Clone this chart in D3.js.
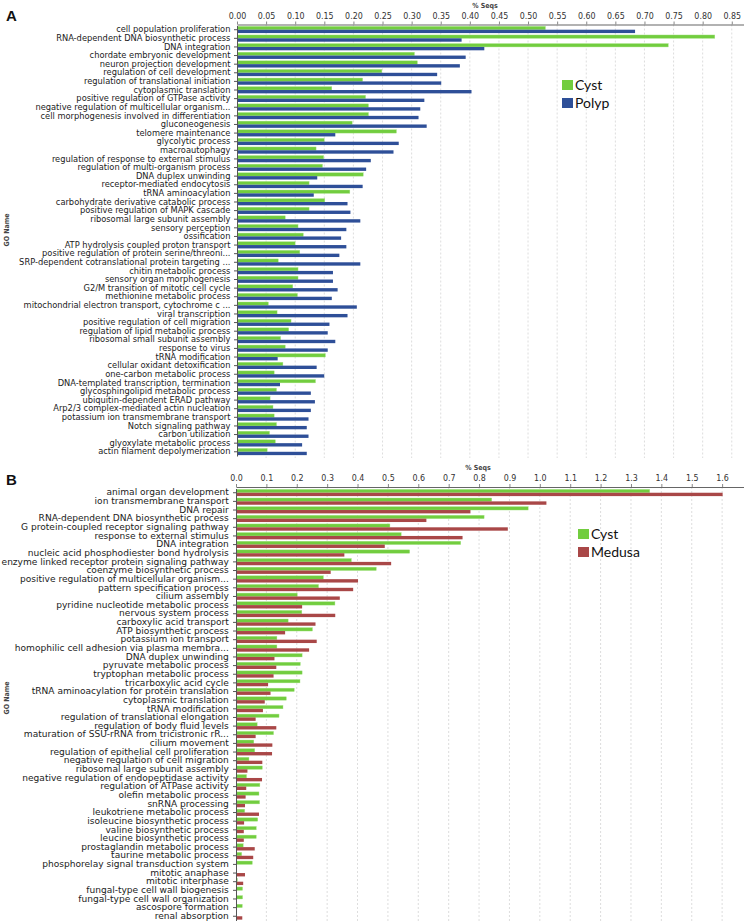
<!DOCTYPE html>
<html>
<head>
<meta charset="utf-8">
<script src="https://cdn.jsdelivr.net/npm/d3@7/dist/d3.min.js"></script>
<style>
  html, body { margin: 0; padding: 0; background: #fff; }
  svg { display: block; }
</style>
</head>
<body>
<svg id="chart" width="744" height="923"></svg>
<script>
// ---------- Panel A data ----------
const categoriesA = [
  "cell population proliferation",
  "RNA-dependent DNA biosynthetic process",
  "DNA integration",
  "chordate embryonic development",
  "neuron projection development",
  "regulation of cell development",
  "regulation of translational initiation",
  "cytoplasmic translation",
  "positive regulation of GTPase activity",
  "negative regulation of multicellular organism...",
  "cell morphogenesis involved in differentiation",
  "gluconeogenesis",
  "telomere maintenance",
  "glycolytic process",
  "macroautophagy",
  "regulation of response to external stimulus",
  "regulation of multi-organism process",
  "DNA duplex unwinding",
  "receptor-mediated endocytosis",
  "tRNA aminoacylation",
  "carbohydrate derivative catabolic process",
  "positive regulation of MAPK cascade",
  "ribosomal large subunit assembly",
  "sensory perception",
  "ossification",
  "ATP hydrolysis coupled proton transport",
  "positive regulation of protein serine/threoni...",
  "SRP-dependent cotranslational protein targeting ...",
  "chitin metabolic process",
  "sensory organ morphogenesis",
  "G2/M transition of mitotic cell cycle",
  "methionine metabolic process",
  "mitochondrial electron transport, cytochrome c ...",
  "viral transcription",
  "positive regulation of cell migration",
  "regulation of lipid metabolic process",
  "ribosomal small subunit assembly",
  "response to virus",
  "tRNA modification",
  "cellular oxidant detoxification",
  "one-carbon metabolic process",
  "DNA-templated transcription, termination",
  "glycosphingolipid metabolic process",
  "ubiquitin-dependent ERAD pathway",
  "Arp2/3 complex-mediated actin nucleation",
  "potassium ion transmembrane transport",
  "Notch signaling pathway",
  "carbon utilization",
  "glyoxylate metabolic process",
  "actin filament depolymerization"
];
const cystA = [
  0.529, 0.820, 0.740, 0.304, 0.309, 0.248, 0.215, 0.162, 0.220, 0.225,
  0.225, 0.197, 0.273, 0.149, 0.135, 0.148, 0.146, 0.216, 0.123, 0.193,
  0.150, 0.123, 0.082, 0.104, 0.113, 0.099, 0.107, 0.070, 0.104, 0.104,
  0.095, 0.103, 0.053, 0.068, 0.092, 0.088, 0.074, 0.082, 0.151, 0.078,
  0.063, 0.134, 0.067, 0.056, 0.061, 0.063, 0.067, 0.055, 0.065, 0.051
];
const polypA = [
  0.683, 0.385, 0.424, 0.392, 0.382, 0.343, 0.350, 0.402, 0.321, 0.314,
  0.311, 0.325, 0.168, 0.277, 0.268, 0.229, 0.221, 0.137, 0.215, 0.131,
  0.189, 0.194, 0.211, 0.187, 0.178, 0.187, 0.175, 0.211, 0.164, 0.164,
  0.172, 0.162, 0.205, 0.189, 0.158, 0.155, 0.168, 0.155, 0.069, 0.136,
  0.149, 0.073, 0.126, 0.133, 0.126, 0.122, 0.119, 0.122, 0.111, 0.119
];
const ticksA = [0, 0.05, 0.10, 0.15, 0.20, 0.25, 0.30, 0.35, 0.40, 0.45, 0.50, 0.55, 0.60, 0.65, 0.70, 0.75, 0.80, 0.85];

// ---------- Panel B data ----------
const categoriesB = [
  "animal organ development",
  "ion transmembrane transport",
  "DNA repair",
  "RNA-dependent DNA biosynthetic process",
  "G protein-coupled receptor signaling pathway",
  "response to external stimulus",
  "DNA integration",
  "nucleic acid phosphodiester bond hydrolysis",
  "enzyme linked receptor protein signaling pathway",
  "coenzyme biosynthetic process",
  "positive regulation of multicellular organism...",
  "pattern specification process",
  "cilium assembly",
  "pyridine nucleotide metabolic process",
  "nervous system process",
  "carboxylic acid transport",
  "ATP biosynthetic process",
  "potassium ion transport",
  "homophilic cell adhesion via plasma membra...",
  "DNA duplex unwinding",
  "pyruvate metabolic process",
  "tryptophan metabolic process",
  "tricarboxylic acid cycle",
  "tRNA aminoacylation for protein translation",
  "cytoplasmic translation",
  "tRNA modification",
  "regulation of translational elongation",
  "regulation of body fluid levels",
  "maturation of SSU-rRNA from tricistronic rR...",
  "cilium movement",
  "regulation of epithelial cell proliferation",
  "negative regulation of cell migration",
  "ribosomal large subunit assembly",
  "negative regulation of endopeptidase activity",
  "regulation of ATPase activity",
  "olefin metabolic process",
  "snRNA processing",
  "leukotriene metabolic process",
  "isoleucine biosynthetic process",
  "valine biosynthetic process",
  "leucine biosynthetic process",
  "prostaglandin metabolic process",
  "taurine metabolic process",
  "phosphorelay signal transduction system",
  "mitotic anaphase",
  "mitotic interphase",
  "fungal-type cell wall biogenesis",
  "fungal-type cell wall organization",
  "ascospore formation",
  "renal absorption"
];
const cystB = [
  1.36, 0.84, 0.96, 0.815, 0.505, 0.542, 0.738, 0.570, 0.378, 0.460,
  0.286, 0.270, 0.200, 0.324, 0.215, 0.170, 0.250, 0.133, 0.133, 0.216,
  0.210, 0.216, 0.209, 0.190, 0.164, 0.153, 0.140, 0.068, 0.122, 0.057,
  0.060, 0.041, 0.085, 0.033, 0.077, 0.074, 0.076, 0.027, 0.070, 0.065,
  0.065, 0.022, 0.017, 0.052, 0.000, 0.003, 0.020, 0.020, 0.019, 0.000
];
const medusaB = [
  1.60, 1.02, 0.77, 0.625, 0.893, 0.744, 0.488, 0.355, 0.509, 0.310,
  0.400, 0.384, 0.340, 0.216, 0.325, 0.260, 0.160, 0.264, 0.239, 0.125,
  0.131, 0.122, 0.104, 0.112, 0.093, 0.087, 0.063, 0.131, 0.063, 0.118,
  0.117, 0.085, 0.036, 0.084, 0.032, 0.030, 0.028, 0.074, 0.025, 0.024,
  0.024, 0.060, 0.055, 0.000, 0.028, 0.022, 0.000, 0.000, 0.000, 0.019
];
const ticksB = [0, 0.1, 0.2, 0.3, 0.4, 0.5, 0.6, 0.7, 0.8, 0.9, 1.0, 1.1, 1.2, 1.3, 1.4, 1.5, 1.6];

const seriesNamesA = ["Cyst", "Polyp"];
const seriesNamesB = ["Cyst", "Medusa"];

// ---------- drawing ----------
const svg = d3.select("#chart");
const GREEN = "#72cd3f", BLUE = "#2e4f98", RED = "#a94747";
const FONT = "'DejaVu Sans Condensed', 'DejaVu Sans', sans-serif";

function drawPanel(cfg) {
  const g = svg.append("g");
  const x = d3.scaleLinear().domain([0, cfg.xMax]).range([cfg.x0, 744]);
  const y = d3.scaleBand().domain(cfg.cats).range([cfg.yTop, cfg.yBot]).paddingInner(0.22).paddingOuter(0.1);

  // gridlines
  g.append("g").selectAll("line").data(cfg.ticks.slice(1)).join("line")
    .attr("x1", d => x(d)).attr("x2", d => x(d))
    .attr("y1", cfg.axisY).attr("y2", cfg.yBot + 2)
    .attr("stroke", "#d4d4d4").attr("stroke-width", 0.8)
    .attr("stroke-dasharray", "2,2");

  // bars
  const bh = y.bandwidth() / 2;
  const rows = cfg.cats.map((c, i) => ({c, a: cfg.s1[i], b: cfg.s2[i]}));
  const rg = g.append("g").selectAll("g").data(rows).join("g")
    .attr("transform", d => `translate(0,${y(d.c)})`);
  rg.append("rect").attr("x", x(0) + 0.5).attr("y", 0)
    .attr("width", d => Math.max(0, x(d.a) - x(0)))
    .attr("height", bh)
    .attr("fill", GREEN).attr("stroke", "#a6e384").attr("stroke-width", 0.4);
  rg.append("rect").attr("x", x(0) + 0.5).attr("y", bh)
    .attr("width", d => Math.max(0, x(d.b) - x(0)))
    .attr("height", bh)
    .attr("fill", cfg.color2);

  // top axis
  const ax = g.append("g").attr("transform", `translate(0,${cfg.axisY})`)
    .call(d3.axisTop(x).tickValues(cfg.ticks).tickFormat(d3.format(cfg.fmt)).tickSize(3).tickSizeOuter(0).tickPadding(3));
  ax.select(".domain").attr("stroke", "#666").attr("stroke-width", 1.2);
  ax.selectAll(".tick line").attr("stroke", "#888");
  ax.selectAll("text").attr("font-family", FONT).attr("font-size", 8.8).attr("fill", "#333");

  // left axis
  const ay = g.append("g").attr("transform", `translate(${cfg.x0},0)`)
    .call(d3.axisLeft(y).tickSize(3).tickSizeOuter(0).tickPadding(3));
  ay.select(".domain").attr("stroke", "#555").attr("stroke-width", 1);
  ay.selectAll(".tick line").attr("stroke", "#555");
  ay.selectAll("text").attr("font-family", FONT).attr("font-size", 8.4).attr("fill", "#222")
    .attr("transform", `scale(${cfg.labelScale},1)`);

  // axis title
  g.append("text").attr("x", cfg.titleX).attr("y", cfg.axisY - 17)
    .attr("text-anchor", "middle").attr("font-family", FONT)
    .attr("font-size", 7).attr("font-weight", "bold").attr("fill", "#444").text("% Seqs");

  // GO Name
  g.append("text").attr("transform", `translate(9,${cfg.goY}) rotate(-90)`)
    .attr("text-anchor", "middle").attr("font-family", FONT)
    .attr("font-size", 7).attr("font-weight", "bold").attr("fill", "#444").text("GO Name");

  // panel letter
  g.append("text").attr("x", 6).attr("y", cfg.letterY)
    .attr("font-family", "'Liberation Sans', Arial, sans-serif")
    .attr("font-size", 15).attr("font-weight", "bold").attr("fill", "#111").text(cfg.letter);

  // legend
  const lg = g.append("g").attr("transform", `translate(${cfg.legX},${cfg.legY})`);
  const items = [{n: cfg.names[0], c: GREEN}, {n: cfg.names[1], c: cfg.color2}];
  const li = lg.selectAll("g").data(items).join("g")
    .attr("transform", (d, i) => `translate(0,${i * 18})`);
  li.append("rect").attr("width", 11).attr("height", 10).attr("fill", d => d.c);
  li.append("text").attr("x", 13).attr("y", 10)
    .attr("font-family", "Lato, 'Open Sans', sans-serif").attr("font-size", 14)
    .attr("fill", "#111").text(d => d.n);
}

drawPanel({
  cats: categoriesA, s1: cystA, s2: polypA, color2: BLUE, names: seriesNamesA,
  ticks: ticksA, fmt: ".2f", xMax: 0.871, x0: 237, labelScale: 1.1,
  axisY: 24.5, yTop: 25.5, yBot: 456, titleX: 485, goY: 230, letter: "A", letterY: 21,
  legX: 562, legY: 80
});
drawPanel({
  cats: categoriesB, s1: cystB, s2: medusaB, color2: RED, names: seriesNamesB,
  ticks: ticksB, fmt: ".1f", xMax: 1.672, x0: 236, labelScale: 1.2,
  axisY: 487, yTop: 488.5, yBot: 920.5, titleX: 478, goY: 698, letter: "B", letterY: 485,
  legX: 578, legY: 529
});
</script>
</body>
</html>
